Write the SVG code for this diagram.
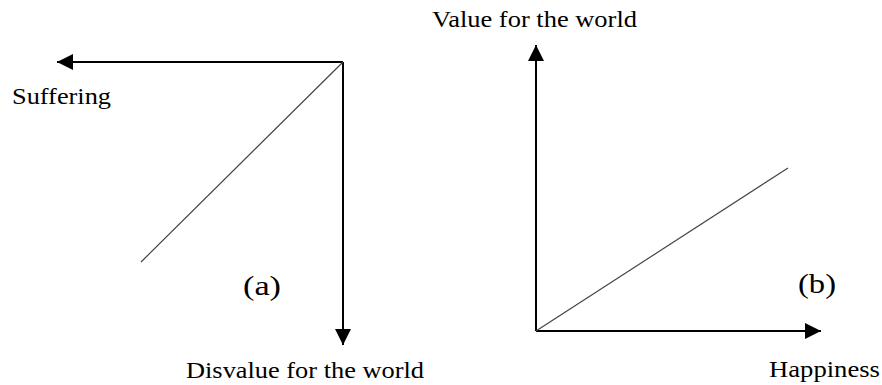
<svg xmlns="http://www.w3.org/2000/svg" width="882" height="385" viewBox="0 0 882 385">
<style>
.ax{stroke:#000;stroke-width:2;fill:none}
.dg{stroke:#444;stroke-width:1.2;fill:none}
.t{font-family:"Liberation Serif","Times New Roman",serif;fill:#000}
</style>
<defs>
<marker id="ah" viewBox="0 0 10 10" refX="10" refY="5" markerWidth="17" markerHeight="16" markerUnits="userSpaceOnUse" orient="auto">
<path d="M0,0L10,5L0,10z" fill="#000"/>
</marker>
</defs>
<rect width="882" height="385" fill="#fff"/>
<g id="connectors">
<line class="ax" x1="343" y1="62" x2="57" y2="62" marker-end="url(#ah)"/>
<line class="ax" x1="343" y1="62" x2="343" y2="345" marker-end="url(#ah)"/>
<line class="dg" x1="343" y1="62" x2="141" y2="262"/>
<line class="ax" x1="536" y1="331" x2="536" y2="45" marker-end="url(#ah)"/>
<line class="ax" x1="536" y1="331" x2="821" y2="331" marker-end="url(#ah)"/>
<line class="dg" x1="536" y1="331" x2="788" y2="168"/>
</g>
<g id="suffering"><text class="t" x="12" y="104" font-size="23" textLength="99" lengthAdjust="spacingAndGlyphs">Suffering</text></g>
<g id="disvalue"><text class="t" x="186" y="378" font-size="23" textLength="238" lengthAdjust="spacingAndGlyphs">Disvalue for the world</text></g>
<g id="label-a"><text class="t" x="243" y="295" font-size="28" textLength="38" lengthAdjust="spacingAndGlyphs">(a)</text></g>
<g id="value"><text class="t" x="432" y="27" font-size="23" textLength="205" lengthAdjust="spacingAndGlyphs">Value for the world</text></g>
<g id="happiness"><text class="t" x="769" y="377" font-size="23" textLength="111" lengthAdjust="spacingAndGlyphs">Happiness</text></g>
<g id="label-b"><text class="t" x="798" y="293" font-size="28" textLength="38" lengthAdjust="spacingAndGlyphs">(b)</text></g>
</svg>
